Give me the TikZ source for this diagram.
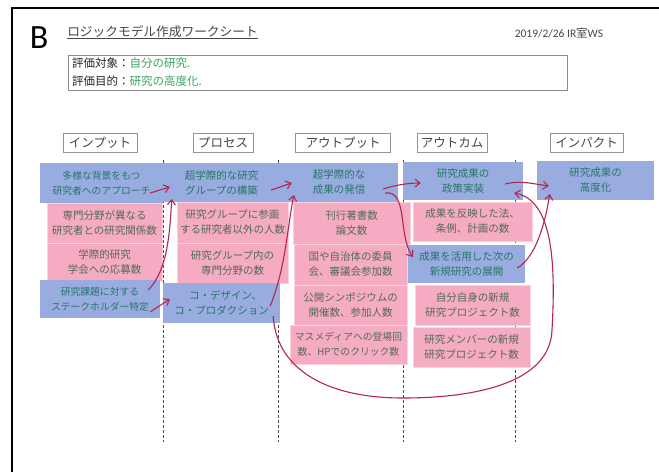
\documentclass[tikz,border=0pt]{standalone}
\usepackage{fontspec}
\newfontfamily\cjk{Noto Sans CJK JP}
\newfontfamily\latinfont{Carlito}
\usetikzlibrary{arrows.meta,calc}
\definecolor{notebl}{RGB}{152,172,224}
\definecolor{notepk}{RGB}{245,172,194}
\definecolor{inkbl}{RGB}{38,118,104}
\definecolor{inkpk}{RGB}{84,104,88}
\definecolor{inkgr}{RGB}{60,165,95}
\definecolor{arrowred}{RGB}{180,38,78}
\definecolor{hdrgray}{RGB}{70,70,70}
\begin{document}
\begin{tikzpicture}[x=1pt,y=-1pt,
  note/.style={rectangle, inner sep=1pt, align=center, font=\cjk\fontsize{10.5}{15}\selectfont},
  bluenote/.style={note, fill=notebl, text=inkbl},
  pinknote/.style={note, fill=notepk, draw=notepk!55!white, line width=0.6pt, text=inkpk},
  hdr/.style={draw=gray!85, line width=0.7pt, inner sep=2pt, minimum height=19pt, font=\cjk\fontsize{12.5}{14}\selectfont, text=hdrgray},
  link/.style={draw=arrowred, line width=1.1pt, -{Straight Barb[length=5pt,width=8pt]}},
  colline/.style={densely dashed, line width=0.7pt, draw=black!70}]
\fill[white] (0,0) rectangle (659,472);
\useasboundingbox (0,0) rectangle (659,472);
% frame
\draw[line width=2pt] (12,472) -- (12,8) -- (659,8);
% header
\node[font=\latinfont\fontsize{34}{34}\selectfont, inner sep=0pt] (B) at (39,38) {B};
\node[font=\cjk\fontsize{12.7}{14}\selectfont, text=hdrgray, inner sep=0pt] (title) at (162.5,32) {ロジックモデル作成ワークシート};
\draw[hdrgray, line width=0.6pt] (title.south west) -- (title.south east);
\node[font=\latinfont\fontsize{11.5}{13}\selectfont, text=hdrgray, inner sep=0pt] (date) at (559,33) {2019/2/26 IR{\cjk 室}WS};
\node[draw=gray!90, line width=0.7pt, minimum width=499pt, minimum height=35pt, anchor=north west, inner sep=0pt] (evalbox) at (68,55) {};
\node[anchor=west, inner sep=0pt, font=\cjk\fontsize{11.5}{13}\selectfont, text=black!85] (eval1) at (72,63) {評価対象：{\color{inkgr}自分の研究.}};
\node[anchor=west, inner sep=0pt, font=\cjk\fontsize{11.5}{13}\selectfont, text=black!85] (eval2) at (72,81) {評価目的：{\color{inkgr}研究の高度化.}};
% column headers
\node[hdr, minimum width=74pt] (hIn) at (100,142.5) {インプット};
\node[hdr, minimum width=60pt] (hPr) at (223,142.5) {プロセス};
\node[hdr, minimum width=95pt] (hOut) at (343,142.5) {アウトプット};
\node[hdr, minimum width=70pt] (hOc) at (452,142.5) {アウトカム};
\node[hdr, minimum width=73pt] (hIm) at (586.5,142.5) {インパクト};
% dashed column lines
\draw[colline] (163,160) -- (163,442);
\draw[colline] (278,160) -- (278,442);
\draw[colline] (403,160) -- (403,442);
\draw[colline] (515,160) -- (515,442);
% input
\node[bluenote, minimum width=123pt, minimum height=40pt, font=\cjk\fontsize{9.8}{15}\selectfont] (I1) at (101.5,183) {多様な背景をもつ\\研究者へのアプローチ\hspace{6pt}};
\node[pinknote, minimum width=115pt, minimum height=40pt] (I2) at (104.5,223) {専門分野が異なる\\研究者との研究関係数};
\node[pinknote, minimum width=115pt, minimum height=38pt] (I3) at (104.5,262) {学際的研究\\学会への応募数};
\node[bluenote, minimum width=120pt, minimum height=38pt, font=\cjk\fontsize{9.8}{15}\selectfont] (I4) at (100,299) {研究課題に対する\\ステークホルダー特定\hspace{6pt}};
% process
\node[bluenote, minimum width=117pt, minimum height=39pt] (P1) at (221.5,182.5) {超学際的な研究\\グループの構築};
\node[pinknote, minimum width=111pt, minimum height=41pt] (P2) at (232.5,222.5) {研究グループに参画\\する研究者以外の人数};
\node[pinknote, minimum width=111pt, minimum height=40pt] (P3) at (232.5,263) {研究グループ内の\\専門分野の数};
\node[bluenote, minimum width=117pt, minimum height=40pt] (P4) at (221.5,303) {\hspace{8pt}コ・デザイン、\\コ・プロダクション};
% output
\node[bluenote, minimum width=118pt, minimum height=39pt] (O1) at (339,182.5) {超学際的な\\成果の発信};
\node[pinknote, minimum width=117pt, minimum height=42pt] (O2) at (351.5,223) {刊行著書数\\論文数};
\node[pinknote, minimum width=113pt, minimum height=41pt] (O3) at (350.5,264.5) {国や自治体の委員\\会、審議会参加数};
\node[pinknote, minimum width=113pt, minimum height=40pt] (O4) at (350.5,305) {公開シンポジウムの\\開催数、参加人数};
\node[pinknote, minimum width=117pt, minimum height=39pt, font=\cjk\fontsize{9.8}{15}\selectfont] (O5) at (348.5,344.5) {マスメディアへの登場回\\数、HPでのクリック数};
% outcome
\node[bluenote, minimum width=120pt, minimum height=38pt] (C1) at (463,181) {研究成果の\\政策実装};
\node[pinknote, minimum width=119pt, minimum height=39pt] (C2) at (472.5,221.5) {成果を反映した法、\\条例、計画の数};
\node[bluenote, minimum width=117pt, minimum height=38pt] (C3) at (466.5,264) {成果を活用した次の\\新規研究の展開};
\node[pinknote, minimum width=115pt, minimum height=40pt] (C4) at (472.5,305) {自分自身の新規\\研究プロジェクト数};
\node[pinknote, minimum width=117pt, minimum height=40pt] (C5) at (471.5,347) {研究メンバーの新規\\研究プロジェクト数};
% impact
\node[bluenote, minimum width=117pt, minimum height=39pt] (IM1) at (595.5,180.5) {研究成果の\\高度化};
% waypoints of the long loop
\coordinate (loopB) at (403,398);
\coordinate (loopR) at (552,330);
% connectors
\draw[link] ($(I1.east)+(-13,10)$) -- ($(P1.west)+(7,4.5)$);
\draw[link] ($(I4.east)+(-12,-9)$) .. controls +(20,-20) and +(-2,31) .. ($(P1.west)+(9,16.5)$);
\draw[link] ($(I4.east)+(-10,13)$) -- ($(P4.west)+(7,-4)$);
\draw[link] ($(P1.east)+(-9,7.5)$) -- ($(O1.west)+(12,0.5)$);
\draw[link] ($(P4.east)+(-10,3)$) .. controls +(15,-36) and +(-6,30) .. ($(O1.west)+(14,12.5)$);
\draw[link] ($(O1.east)+(-15,6.5)$) .. controls +(12,-4) and +(-12,0) .. ($(C1.west)+(18,2)$);
\draw[link] ($(O1.east)+(-13,10.5)$) .. controls +(23,-3) and +(-15,-22) .. ($(C3.west)+(5,-7)$);
\draw[link] ($(C1.east)+(-18,3)$) .. controls +(15,-4) and +(-15,-2) .. ($(IM1.west)+(12,5.5)$);
\draw[link] ($(C3.east)+(-8,4)$) .. controls +(18,-10) and +(-5,31) .. ($(IM1.west)+(13,13.5)$);
\draw[link] ($(P4.east)+(-7,13)$) .. controls (276,365) and (320,398) .. (loopB)
  .. controls (470,398) and (550,385) .. (loopR)
  .. controls (556,260) and (552,200) .. ($(C1.east)+(-9,12)$);
\end{tikzpicture}
\end{document}
